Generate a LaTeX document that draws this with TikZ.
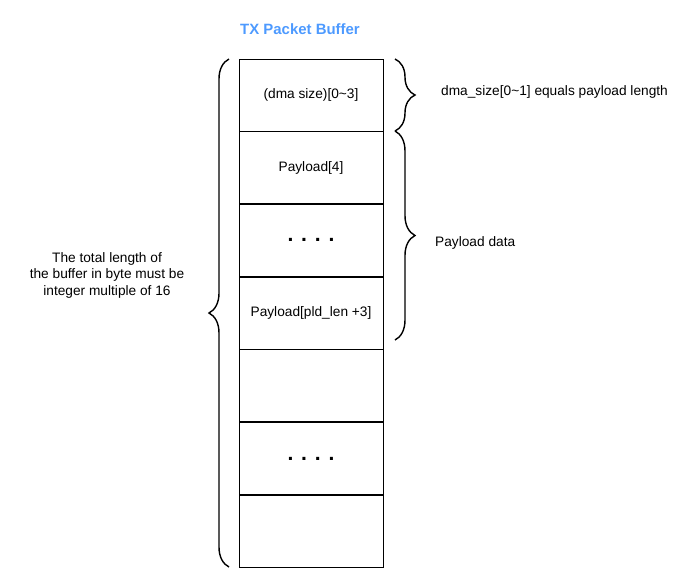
\documentclass[tikz,border=0pt]{standalone}
\usepackage{fontspec}
\setmainfont{Liberation Sans}
\usetikzlibrary{decorations.pathreplacing, positioning}
\tikzset{
  cell/.style={draw, minimum width=2.88cm, minimum height=1.44cm, inner sep=0pt, font=\fontsize{7.8}{9.4}\selectfont},
  lbl/.style={font=\fontsize{7.8}{9.4}\selectfont},
  brc/.style={decorate, decoration={brace, amplitude=0.4cm}, thick}
}
\begin{document}
\begin{tikzpicture}[x=0.02cm, y=-0.02cm]
        \useasboundingbox (0,0) rectangle (690,576);
        \node[font=\bfseries\fontsize{8.5}{10}\selectfont, text={rgb,255:red,77;green,154;blue,255}] (title) at (300,29) {TX Packet Buffer};
        
        \node[cell] (r1) at (311,95) {(dma size)[0\textasciitilde3]};
        \node[cell, below=0pt of r1] (r2) {Payload[4]};
        \node[cell, below=0pt of r2] (r3) {\textbf{\large . . . .}};
        \node[cell, below=0pt of r3] (r4) {Payload[pld\_len +3]};
        \node[cell, below=0pt of r4] (r5) {};
        \node[cell, below=0pt of r5] (r6) {\textbf{\large . . . .}};
        \node[cell, below=0pt of r6] (r7) {};
        
        \draw[brc] (229,567) -- (229,59);
        \draw[brc] (395,59) -- (395,131);
        \draw[brc] (395,131) -- (395,340);
        
        \node[lbl, align=center] (total) at (107,275) {The total length of\\the buffer in byte must be\\integer multiple of 16};
        \node[lbl, anchor=west] (dma) at (435,92) {dma\_size[0\textasciitilde1] equals payload length};
        \node[lbl, anchor=west] (pld) at (429,243) {Payload data};
    \end{tikzpicture}
\end{document}
